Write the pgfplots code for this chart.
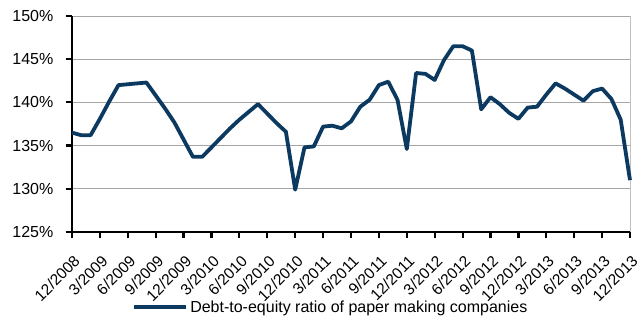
\documentclass[border=0pt]{standalone}
\usepackage{pgfplots}
\pgfplotsset{compat=1.18}
\usepackage{fontspec}
\setmainfont{Liberation Sans}
\definecolor{navy}{HTML}{0C3960}
\definecolor{gridgray}{HTML}{A6A6A6}
\begin{document}
\begin{tikzpicture}
\path[use as bounding box] (-72pt,-88pt) rectangle (571pt,232pt);
\begin{axis}[
  at={(0,0)}, anchor=south west,
  scale only axis, width=558pt, height=216pt,
  xmin=0, xmax=60, ymin=125, ymax=150,
  axis x line*=bottom, axis y line*=left,
  axis line style={line width=2.5pt, black, -},
  xtick={0,3,...,60},
  xticklabels={12/2008,3/2009,6/2009,9/2009,12/2009,3/2010,6/2010,9/2010,12/2010,3/2011,6/2011,9/2011,12/2011,3/2012,6/2012,9/2012,12/2012,3/2013,6/2013,9/2013,12/2013},
  ytick={125,130,...,150},
  yticklabel={\pgfmathprintnumber{\tick}\%},
  /pgf/number format/assume math mode=true,
  tick align=outside,
  major tick length=6.5pt,
  tick style={line width=2.2pt, black},
  ymajorgrids, grid style={gridgray, line width=0.9pt},
  tick label style={font=\fontsize{16}{19}\selectfont},
  yticklabel style={inner sep=0pt, anchor=east, xshift=-12pt},
  xticklabel style={inner sep=0pt, font=\fontsize{15.5}{18}\selectfont, xshift=5pt, yshift=-20pt, rotate=45, anchor=east},
  legend style={at={(0.464,0)}, anchor=center, yshift=-75pt, draw=none, fill=none,
    font=\fontsize{16}{19}\selectfont, inner sep=0pt,
    legend cell align=left},
  legend image code/.code={\draw[#1] (0pt,0pt) -- (52pt,0pt);},
  clip=false,
]
\draw[gridgray!70, line width=0.8pt] (rel axis cs:1,0) -- (rel axis cs:1,1);
\addplot[navy, line width=3.8pt, line join=round] coordinates {
(0,136.5)(1,136.2)(2,136.2)(3,138.1)(4,140.1)(5,142.0)(6,142.1)(7,142.2)(8,142.3)
(9,140.8)(10,139.3)(11,137.7)(12,135.7)(13,133.7)(14,133.7)(15,134.8)(16,135.9)
(17,137.0)(18,138.0)(19,138.9)(20,139.8)(21,138.7)(22,137.6)(23,136.6)(24,129.9)
(25,134.8)(26,134.9)(27,137.2)(28,137.3)(29,137.0)(30,137.8)(31,139.5)(32,140.3)
(33,142.0)(34,142.4)(35,140.3)(36,134.6)(37,143.4)(38,143.3)(39,142.6)(40,144.9)
(41,146.5)(42,146.5)(43,146.0)(44,139.2)(45,140.6)(46,139.8)(47,138.8)(48,138.1)
(49,139.4)(50,139.5)(51,140.9)(52,142.2)(53,141.6)(54,140.9)(55,140.2)(56,141.3)
(57,141.6)(58,140.4)(59,138.0)(60,131.0)
};
\addlegendentry{Debt-to-equity ratio of paper making companies}
\end{axis}
\end{tikzpicture}
\end{document}
